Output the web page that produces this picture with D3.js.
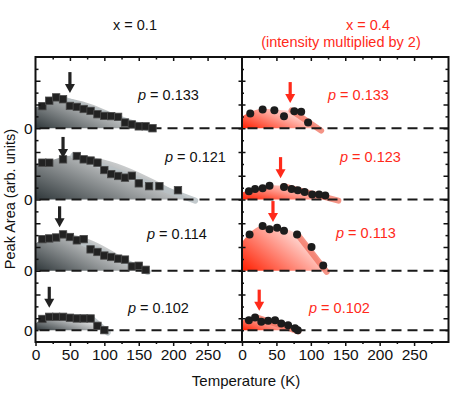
<!DOCTYPE html>
<html>
<head>
<meta charset="utf-8">
<script src="https://cdn.jsdelivr.net/npm/d3@7"></script>
<style>
  body { margin: 0; background: #fff; }
  text { font-family: "Liberation Sans", Arial, sans-serif; }
</style>
</head>
<body>
<div id="chart"></div>
<script>
// temperatures (K) and peak areas (one major tick = 1 unit) per row, top to bottom
const leftT = [
  [10, 20, 30, 40, 50, 60, 70, 80, 90, 100, 110, 120, 130, 140, 150, 160, 170],
  [10, 20, 40, 60, 70, 80, 90, 100, 110, 120, 130, 140, 150, 165, 180, 207],
  [10, 20, 30, 40, 50, 60, 70, 80, 90, 100, 110, 120, 130, 140, 150, 160],
  [10, 20, 30, 40, 50, 60, 70, 80, 90, 100]
];
const leftH = [
  [0.93, 1.16, 1.30, 1.22, 0.94, 0.90, 0.81, 0.73, 0.59, 0.52, 0.51, 0.48, 0.24, 0.16, 0.08, 0.08, 0.0],
  [1.55, 1.55, 1.69, 1.83, 1.69, 1.64, 1.55, 1.24, 1.07, 0.99, 0.92, 1.0, 0.68, 0.56, 0.56, 0.39],
  [1.33, 1.36, 1.40, 1.53, 1.42, 1.28, 1.33, 0.90, 0.79, 0.64, 0.58, 0.51, 0.47, 0.18, 0.21, 0.04],
  [0.47, 0.56, 0.56, 0.56, 0.52, 0.49, 0.49, 0.49, 0.18, 0.0]
];
const rightT = [
  [12, 30, 47, 61, 76, 86, 96],
  [10, 19, 30, 40, 61, 72, 81, 91, 102, 112, 121],
  [11, 30, 40, 51, 61, 80, 101, 118],
  [10, 19, 28, 38, 48, 57, 67, 77, 81]
];
const rightH = [
  [0.62, 0.79, 0.76, 0.51, 0.72, 0.69, 0.24],
  [0.35, 0.44, 0.47, 0.58, 0.53, 0.44, 0.39, 0.32, 0.21, 0.21, 0.17],
  [1.53, 1.88, 1.75, 1.81, 1.68, 1.53, 1.0, 0.22],
  [0.42, 0.53, 0.35, 0.39, 0.42, 0.28, 0.21, 0.08, 0.0]
];

// shaded envelopes [T, height] and guide bands
const leftFill = [
  [[0, 0.9], [10, 0.95], [30, 1.3], [155, 0]],
  [[0, 1.5], [10, 1.55], [55, 1.85], [225, 0]],
  [[0, 1.15], [10, 1.33], [40, 1.55], [155, 0]],
  [[0, 0.27], [15, 0.55], [80, 0.52], [100, 0]]
];
const leftBand = [
  [[32, 1.3], [165, -0.02]],
  [[55, 1.85], [232, -0.05]],
  [[40, 1.55], [163, -0.05]],
  [[20, 0.58], [80, 0.52], [105, -0.1]]
];
const rightFill = [
  [[0, 0.5], [30, 0.82], [60, 0.76], [75, 0.72], [110, 0]],
  [[0, 0.3], [20, 0.45], [45, 0.6], [60, 0.58], [135, 0]],
  [[0, 1.2], [10, 1.55], [30, 1.9], [60, 1.78], [80, 1.55], [122, 0]],
  [[0, 0.4], [20, 0.55], [80, 0]]
];
const rightBand = [
  [[72, 0.75], [115, -0.1]],
  [[60, 0.56], [140, -0.05]],
  [[80, 1.55], [123, -0.05]],
  [[20, 0.55], [82, -0.05]]
];

// arrows: temperature and tip height
const leftArrowT = [50, 40, 35, 20];
const leftArrowH = [1.48, 1.75, 1.83, 0.94];
const rightArrowT = [70, 56, 45, 25];
const rightArrowH = [1.06, 0.9, 2.05, 0.82];

const leftLabels = ["0.133", "0.121", "0.114", "0.102"];
const rightLabels = ["0.133", "0.123", "0.113", "0.102"];
const leftLabelPos = [[138, 1.4], [165, 1.8], [147, 1.55], [128, 0.95]];
const rightLabelPos = [[328, 1.4], [340, 1.8], [336, 1.6], [309, 0.95]];

const rowZero = [9, 6, 3, 0.5];   // zero of each row in the stacked units
const xTicks = [0, 50, 100, 150, 200, 250];
const xMinor = [25, 75, 125, 175, 225, 275];

const red = "#ff2a1a";
const W = 458, H = 396;
const pTop = 57, pBottom = 342, pLeft = 35.5, pMid = 242, pRight = 448.5;

const svg = d3.select("#chart").append("svg")
    .attr("width", W)
    .attr("height", H);

const defs = svg.append("defs");
function grad(id, c0, c1) {
  const g = defs.append("linearGradient").attr("id", id)
      .attr("x1", 0).attr("y1", 1).attr("x2", 1).attr("y2", 0.35);
  g.append("stop").attr("offset", "0%").attr("stop-color", c0);
  g.append("stop").attr("offset", "100%").attr("stop-color", c1);
}
grad("gGray", "#2f373a", "#ffffff");
grad("gRed", "#ff1e00", "#ffffff");

const xL = d3.scaleLinear().domain([0, 300]).range([pLeft, pMid]);
const xR = d3.scaleLinear().domain([0, 300]).range([pMid, pRight]);
const y = d3.scaleLinear().domain([0, 12]).range([pBottom, pTop]);

function drawShade(x, fills, bands, isLeft) {
  const g = svg.append("g");
  rowZero.forEach((z, i) => {
    const area = d3.area()
        .x(d => x(d[0]))
        .y0(y(z))
        .y1(d => y(z + d[1]))
        .curve(d3.curveMonotoneX);
    g.append("path")
        .attr("d", area(fills[i]))
        .attr("fill", isLeft ? "url(#gGray)" : "url(#gRed)");

    const line = d3.line().x(d => x(d[0])).y(d => y(z + d[1]));
    g.append("path")
        .attr("d", line(bands[i]))
        .attr("fill", "none")
        .attr("stroke", isLeft ? "#b9c1c4" : "#f0705e")
        .attr("stroke-opacity", isLeft ? 0.85 : 0.75)
        .attr("stroke-width", 6)
        .attr("stroke-linecap", "round");
  });
}

function drawMarks(x, T, Hs, aT, aH, labels, lpos, isLeft) {
  const g = svg.append("g");
  rowZero.forEach((z, i) => {
    const pts = T[i].map((t, j) => [t, Hs[i][j]]);
    if (isLeft) {
      g.selectAll(null).data(pts).enter().append("rect")
          .attr("x", d => x(d[0]) - 3.7)
          .attr("y", d => y(z + d[1]) - 3.7)
          .attr("width", 7.4).attr("height", 7.4)
          .attr("fill", "#222")
          .attr("stroke", "#4a4a4a")
          .attr("stroke-width", 0.8);
    } else {
      g.selectAll(null).data(pts).enter().append("circle")
          .attr("cx", d => x(d[0]))
          .attr("cy", d => y(z + d[1]))
          .attr("r", 4)
          .attr("fill", "#1c1c1c");
    }

    // arrow
    const ax = x(aT[i]), ay = y(z + aH[i]);
    const col = isLeft ? "#222" : red;
    g.append("line")
        .attr("x1", ax).attr("x2", ax)
        .attr("y1", ay - 21).attr("y2", ay - 8)
        .attr("stroke", col).attr("stroke-width", 3.2);
    g.append("path")
        .attr("d", `M${ax - 5},${ay - 9} L${ax + 5},${ay - 9} L${ax},${ay} Z`)
        .attr("fill", col);

    const t = g.append("text")
        .attr("x", lpos[i][0])
        .attr("y", y(z + lpos[i][1]) + 5)
        .attr("font-size", "14.5px")
        .attr("fill", isLeft ? "#111" : red);
    t.append("tspan").attr("font-style", "italic").text("p");
    t.append("tspan").text(" = " + labels[i]);
  });
}

drawShade(xL, leftFill, leftBand, true);
drawShade(xR, rightFill, rightBand, false);

// dashed zero lines
svg.append("g").selectAll("line")
    .data(rowZero)
    .enter().append("line")
    .attr("x1", pLeft + 4).attr("x2", pRight)
    .attr("y1", d => y(d)).attr("y2", d => y(d))
    .attr("stroke", "#1a1a1a")
    .attr("stroke-width", 2)
    .attr("stroke-dasharray", "10,6");

drawMarks(xL, leftT, leftH, leftArrowT, leftArrowH, leftLabels, leftLabelPos, true);
drawMarks(xR, rightT, rightH, rightArrowT, rightArrowH, rightLabels, rightLabelPos, false);

// axes
const yMajor = d3.range(1, 12);
const yMinor = d3.range(0.5, 12, 1);

function noDomain(g) { g.select(".domain").remove(); }
function styleText(g) {
  g.selectAll("text").attr("font-size", "15.5px").attr("fill", "#111")
      .style("font-family", "Liberation Sans, Arial, sans-serif");
}

[xL, xR].forEach(x => {
  svg.append("g")
      .attr("transform", `translate(0,${pBottom})`)
      .call(d3.axisBottom(x).tickValues(xTicks).tickSize(4).tickPadding(3).tickFormat(d3.format("d")))
      .call(noDomain)
      .call(styleText);
  svg.append("g")
      .attr("transform", `translate(0,${pBottom})`)
      .call(d3.axisBottom(x).tickValues(xMinor).tickSize(2).tickFormat(""))
      .call(noDomain);
  svg.append("g")
      .attr("transform", `translate(0,${pTop})`)
      .call(d3.axisTop(x).tickValues(xTicks.slice(1)).tickSize(-4).tickFormat(""))
      .call(noDomain);
  svg.append("g")
      .attr("transform", `translate(0,${pTop})`)
      .call(d3.axisTop(x).tickValues(xMinor).tickSize(-2.5).tickFormat(""))
      .call(noDomain);
});

// vertical ticks: left frame, middle divider, right frame
svg.append("g").attr("transform", `translate(${pLeft},0)`)
    .call(d3.axisLeft(y).tickValues(yMajor).tickSize(-5).tickFormat("")).call(noDomain);
svg.append("g").attr("transform", `translate(${pLeft},0)`)
    .call(d3.axisLeft(y).tickValues(yMinor).tickSize(-3).tickFormat("")).call(noDomain);
svg.append("g").attr("transform", `translate(${pLeft},0)`)
    .call(d3.axisLeft(y).tickValues(rowZero).tickSize(0).tickPadding(3).tickFormat(() => "0"))
    .call(noDomain)
    .call(styleText);
svg.append("g").attr("transform", `translate(${pMid},0)`)
    .call(d3.axisLeft(y).tickValues(yMajor).tickSize(3.5).tickFormat("")).call(noDomain);
svg.append("g").attr("transform", `translate(${pMid},0)`)
    .call(d3.axisRight(y).tickValues(yMajor).tickSize(3.5).tickFormat("")).call(noDomain);
svg.append("g").attr("transform", `translate(${pMid},0)`)
    .call(d3.axisRight(y).tickValues(yMinor).tickSize(2).tickFormat("")).call(noDomain);
svg.append("g").attr("transform", `translate(${pRight},0)`)
    .call(d3.axisRight(y).tickValues(yMajor).tickSize(-5).tickFormat("")).call(noDomain);
svg.append("g").attr("transform", `translate(${pRight},0)`)
    .call(d3.axisRight(y).tickValues(yMinor).tickSize(-3).tickFormat("")).call(noDomain);

svg.selectAll(".tick line").attr("stroke", "#111").attr("stroke-width", 1.5);

// frame
svg.append("rect")
    .attr("x", pLeft).attr("y", pTop)
    .attr("width", pRight - pLeft).attr("height", pBottom - pTop)
    .attr("fill", "none").attr("stroke", "#111").attr("stroke-width", 2);
svg.append("line")
    .attr("x1", pMid).attr("x2", pMid).attr("y1", pTop).attr("y2", pBottom)
    .attr("stroke", "#111").attr("stroke-width", 2);

// titles
svg.append("text").attr("x", 135).attr("y", 30).attr("text-anchor", "middle")
    .attr("font-size", "14.5px").attr("fill", "#111").text("x = 0.1");
svg.append("text").attr("x", 368).attr("y", 30).attr("text-anchor", "middle")
    .attr("font-size", "14.5px").attr("fill", red).text("x = 0.4");
svg.append("text").attr("x", 341).attr("y", 47).attr("text-anchor", "middle")
    .attr("font-size", "14.5px").attr("fill", red).text("(intensity multiplied by 2)");

svg.append("text").attr("x", 246).attr("y", 386).attr("text-anchor", "middle")
    .attr("font-size", "15px").attr("fill", "#111").text("Temperature (K)");
svg.append("text")
    .attr("transform", "translate(15,199) rotate(-90)")
    .attr("text-anchor", "middle")
    .attr("font-size", "14.5px").attr("fill", "#111").text("Peak Area (arb. units)");
</script>
</body>
</html>
